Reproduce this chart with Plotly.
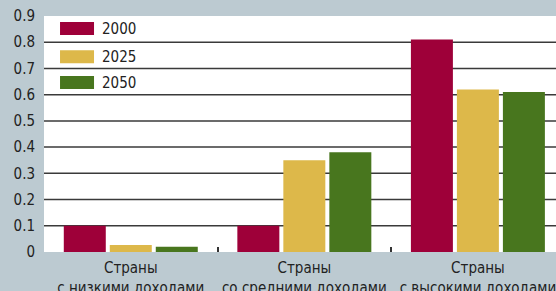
import plotly.graph_objects as go

categories = ["Страны<br>с низкими доходами", "Страны<br>со средними доходами", "Страны<br>с высокими доходами"]
years = ["2000", "2025", "2050"]
values_2000 = [0.10, 0.10, 0.81]
values_2025 = [0.027, 0.35, 0.62]
values_2050 = [0.02, 0.38, 0.61]
y_ticks = [0, 0.1, 0.2, 0.3, 0.4, 0.5, 0.6, 0.7, 0.8, 0.9]
y_tick_labels = ["0", "0.1", "0.2", "0.3", "0.4", "0.5", "0.6", "0.7", "0.8", "0.9"]
grid_values = [0.1, 0.2, 0.3, 0.4, 0.5, 0.6, 0.7, 0.8]

colors = ["#9e0039", "#ddb84a", "#48761e"]
series = [values_2000, values_2025, values_2050]
FONT = "DejaVu Sans Condensed, Liberation Sans Narrow, Liberation Sans, sans-serif"
BG = "#bccad1"

fig = go.Figure()
for name, vals, col in zip(years, series, colors):
    fig.add_trace(go.Bar(x=categories, y=vals, name=name, marker=dict(color=col, line=dict(width=0)),
                         showlegend=False, hoverinfo="skip"))

shapes = []
for g in grid_values:
    shapes.append(dict(type="line", xref="paper", yref="y", x0=0, x1=1, y0=g, y1=g,
                       line=dict(color="#3a3a3a", width=1.5), layer="below"))

annotations = []
row_y = [0.947, 0.8275, 0.718]
for name, col, ry in zip(years, colors, row_y):
    shapes.append(dict(type="rect", xref="paper", yref="paper", x0=0.0313, x1=0.0977,
                       y0=ry - 0.0275, y1=ry + 0.0275, fillcolor=col, line=dict(width=0), layer="above"))
    annotations.append(dict(xref="paper", yref="paper", x=0.109, y=ry, text=name, showarrow=False,
                            xanchor="left", yanchor="middle", font=dict(family=FONT, size=15, color="#222")))

fig.update_layout(
    width=556, height=291,
    margin=dict(l=44, r=0, t=16, b=39),
    paper_bgcolor=BG,
    plot_bgcolor="#ffffff",
    barmode="group",
    bargap=0.205,
    bargroupgap=0.087,
    shapes=shapes,
    annotations=annotations,
    font=dict(family=FONT, size=15, color="#222"),
    xaxis=dict(range=[-0.5, 2.45], showgrid=False, zeroline=False, showline=False,
               tickson="boundaries", ticks="inside", ticklen=5, tickwidth=1.5, tickcolor="#333",
               tickangle=0, automargin=False, ticklabelstandoff=5,
               tickfont=dict(family=FONT, size=15, color="#222")),
    yaxis=dict(range=[0, 0.9], tickvals=y_ticks, ticktext=y_tick_labels, showgrid=False,
               zeroline=False, showline=False, ticks="", ticklabelstandoff=8, automargin=False,
               tickfont=dict(family=FONT, size=15, color="#222")),
)

fig.write_html("out.html", config={"displayModeBar": False},
               post_script="document.body.style.margin='0';document.body.style.background='%s';" % BG)
